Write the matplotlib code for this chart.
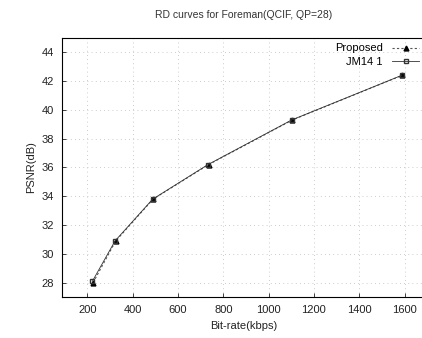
import matplotlib.pyplot as plt
import numpy as np

plt.rcParams['font.family'] = ['Liberation Sans', 'DejaVu Sans']

# data
bitrate_prop = [225, 325, 490, 735, 1105, 1590]
psnr_prop = [28.0, 30.9, 33.8, 36.2, 39.3, 42.4]
bitrate_jm = [222, 322, 488, 732, 1102, 1588]
psnr_jm = [28.1, 30.9, 33.8, 36.2, 39.3, 42.4]
xticks = [200, 400, 600, 800, 1000, 1200, 1400, 1600]
yticks = [28, 30, 32, 34, 36, 38, 40, 42, 44]

fig = plt.figure(figsize=(4.22, 3.38), dpi=100)
ax = fig.add_axes([0.147, 0.121, 0.86, 0.767])

ax.plot(bitrate_prop, psnr_prop, linestyle=(0, (2, 2)), color='#555555', linewidth=0.8,
        marker='^', markersize=3.5, markerfacecolor='black', markeredgecolor='black', label='Proposed')
ax.plot(bitrate_jm, psnr_jm, linestyle='-', color='#333333', linewidth=0.6,
        marker='s', markersize=3, markerfacecolor='none', markeredgecolor='#333333', label='JM14 1')

ax.set_xlim(88, 1690)
ax.set_ylim(27, 45)
ax.set_xticks(xticks)
ax.set_yticks(yticks)
ax.tick_params(labelsize=8, direction='in', length=3, width=0.6, pad=6, colors='#222222')
ax.grid(True, linestyle=(0, (1, 4)), color='#bbbbbb', linewidth=0.6)

for s in ax.spines.values():
    s.set_linewidth(0.8)
ax.spines['right'].set_visible(False)

ax.set_title('RD curves for Foreman(QCIF, QP=28)', fontsize=7.5, pad=14, color='#333333')
ax.set_xlabel('Bit-rate(kbps)', fontsize=8, color='#222222')
ax.set_ylabel('PSNR(dB)', fontsize=8, color='#222222')

ax.legend(loc='upper right', fontsize=8, frameon=False, markerfirst=False,
          handlelength=2.5, borderaxespad=0.1, labelspacing=0.3)

plt.savefig('out.png', dpi=100)
